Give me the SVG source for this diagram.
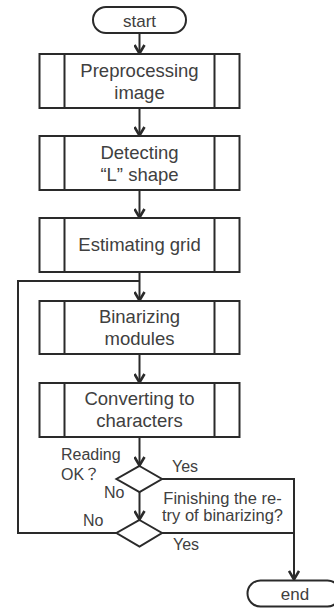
<svg xmlns="http://www.w3.org/2000/svg" width="334" height="608" viewBox="0 0 334 608">
<style>
.s{fill:#fff;stroke:#2a2a2a;stroke-width:2}
.l{fill:none;stroke:#2a2a2a;stroke-width:2}
.t{font-family:"Liberation Sans",Arial,sans-serif;fill:#404040;text-anchor:middle}
.big{font-size:18.5px}
.sm{font-size:16.5px}
.lbl{font-family:"Liberation Sans","Noto Sans CJK JP",Arial,sans-serif;fill:#404040;font-size:16px}
</style>
<defs>
<marker id="ah" markerUnits="userSpaceOnUse" markerWidth="12" markerHeight="12" refX="10.5" refY="6" orient="auto" viewBox="0 0 12 12">
<path d="M1.5,1 L10,6 L1.5,11" fill="none" stroke="#2a2a2a" stroke-width="2.6"/>
</marker>
</defs>
<g id="connectors">
<path class="l" d="M139.5,33 V54" marker-end="url(#ah)"/>
<path class="l" d="M139.5,108 V136" marker-end="url(#ah)"/>
<path class="l" d="M139.5,190 V218" marker-end="url(#ah)"/>
<path class="l" d="M139.5,272 V301" marker-end="url(#ah)"/>
<path class="l" d="M139.5,354 V383" marker-end="url(#ah)"/>
<path class="l" d="M139.5,437 V466" marker-end="url(#ah)"/>
<path class="l" d="M139.5,492 V520" marker-end="url(#ah)"/>
<path class="l" d="M162,479 H294 V580" marker-end="url(#ah)"/>
<path class="l" d="M162,533 H294"/>
<path class="l" d="M116,533 H18 V281 H139.5"/>
</g>
<g id="start">
<rect class="s" x="93" y="7" width="93" height="26" rx="13"/>
<text class="t" x="139.5" y="26.5" font-size="17">start</text>
</g>
<g id="preprocessing">
<rect class="s" x="39.5" y="54" width="200" height="54"/>
<path class="l" d="M64.5,54 V108 M214.5,54 V108"/>
<text class="t big" x="139.5" y="77">Preprocessing</text>
<text class="t big" x="139.5" y="99">image</text>
</g>
<g id="detecting">
<rect class="s" x="39.5" y="136" width="200" height="54"/>
<path class="l" d="M64.5,136 V190 M214.5,136 V190"/>
<text class="t big" x="139.5" y="159">Detecting</text>
<text class="t big" x="139.5" y="181">“L” shape</text>
</g>
<g id="estimating">
<rect class="s" x="39.5" y="218" width="200" height="54"/>
<path class="l" d="M64.5,218 V272 M214.5,218 V272"/>
<text class="t big" x="139.5" y="251">Estimating grid</text>
</g>
<g id="binarizing">
<rect class="s" x="39.5" y="301" width="200" height="53"/>
<path class="l" d="M64.5,301 V354 M214.5,301 V354"/>
<text class="t big" x="139.5" y="323">Binarizing</text>
<text class="t big" x="139.5" y="345">modules</text>
</g>
<g id="converting">
<rect class="s" x="39.5" y="383" width="200" height="54"/>
<path class="l" d="M64.5,383 V437 M214.5,383 V437"/>
<text class="t big" x="139.5" y="404.5">Converting to</text>
<text class="t big" x="139.5" y="426.5">characters</text>
</g>
<g id="reading-ok">
<polygon class="s" points="139.5,466 162,479 139.5,492 116.5,479"/>
<text class="lbl" x="61" y="460">Reading</text>
<text class="lbl" x="61" y="480">OK？</text>
<text class="lbl" x="172" y="472">Yes</text>
<text class="lbl" x="104" y="497.5">No</text>
</g>
<g id="finishing">
<polygon class="s" points="139.5,520 162,533 139.5,546.5 116.5,533"/>
<text class="t sm" x="222.5" y="504">Finishing the re-</text>
<text class="t sm" x="222.5" y="521">try of binarizing?</text>
<text class="lbl" x="83" y="526">No</text>
<text class="lbl" x="173" y="550">Yes</text>
</g>
<g id="end">
<rect class="s" x="247.5" y="580.5" width="93" height="26" rx="13"/>
<text class="t" x="295" y="599.5" font-size="17">end</text>
</g>
</svg>
